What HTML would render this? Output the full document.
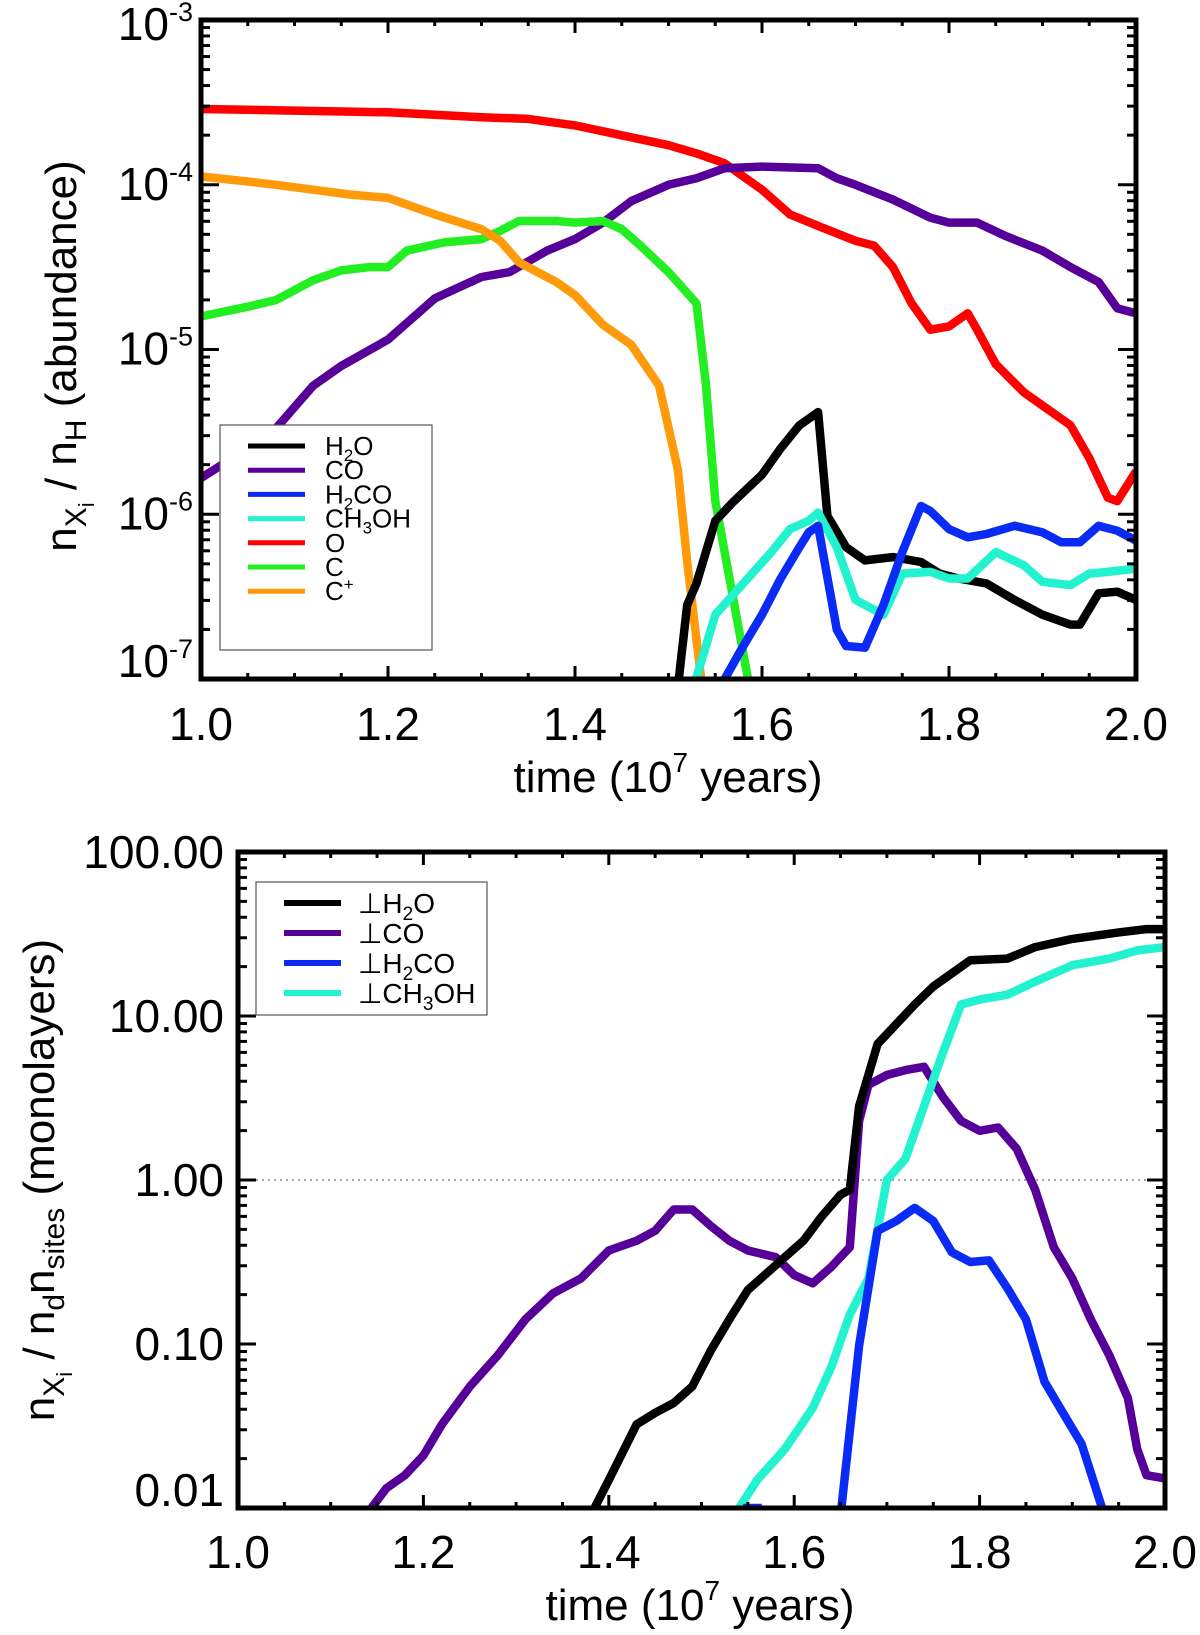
<!DOCTYPE html>
<html><head><meta charset="utf-8"><style>
body{margin:0;background:#fff}
svg{display:block;font-family:"Liberation Sans",Arial,sans-serif}
</style></head><body>
<svg id="fig" width="1200" height="1635" viewBox="0 0 1200 1635" xmlns="http://www.w3.org/2000/svg">
<defs>
<clipPath id="clipTop"><rect x="201" y="20" width="935" height="659"/></clipPath>
<clipPath id="clipBot"><rect x="238" y="852" width="927" height="656"/></clipPath>
</defs>
<g id="top"></g>
<g id="bot"></g>
</svg>
<script>
// ---- Top panel data (t in 1e7 yr, log10 abundance) ----
const topO_t=[1.0,1.1,1.2,1.3,1.35,1.4,1.45,1.5,1.53,1.56,1.6,1.63,1.66,1.7,1.72,1.74,1.76,1.78,1.8,1.82,1.83,1.85,1.88,1.9,1.93,1.95,1.97,1.98,2.0];
const topO_v=[-3.54,-3.55,-3.56,-3.59,-3.60,-3.64,-3.70,-3.76,-3.81,-3.87,-4.03,-4.18,-4.25,-4.34,-4.37,-4.50,-4.72,-4.88,-4.86,-4.78,-4.88,-5.09,-5.26,-5.34,-5.46,-5.66,-5.90,-5.92,-5.74];
const topCO_t=[1.0,1.05,1.08,1.12,1.15,1.2,1.25,1.3,1.33,1.37,1.4,1.43,1.46,1.5,1.53,1.56,1.6,1.66,1.68,1.7,1.74,1.78,1.8,1.83,1.86,1.9,1.93,1.96,1.98,2.0];
const topCO_v=[-5.78,-5.60,-5.48,-5.22,-5.10,-4.94,-4.69,-4.56,-4.53,-4.40,-4.33,-4.23,-4.10,-4.00,-3.96,-3.90,-3.89,-3.90,-3.96,-4.00,-4.09,-4.20,-4.23,-4.23,-4.31,-4.40,-4.50,-4.59,-4.75,-4.78];
const topC_t=[1.0,1.05,1.08,1.12,1.15,1.18,1.2,1.22,1.26,1.3,1.32,1.34,1.38,1.4,1.43,1.45,1.47,1.5,1.53,1.54,1.55,1.585,1.6];
const topC_v=[-4.80,-4.74,-4.70,-4.58,-4.52,-4.50,-4.50,-4.40,-4.35,-4.33,-4.28,-4.22,-4.22,-4.23,-4.22,-4.27,-4.37,-4.53,-4.72,-5.21,-5.92,-7.0,-7.6];
const topCp_t=[1.0,1.05,1.08,1.12,1.16,1.2,1.25,1.3,1.32,1.34,1.38,1.4,1.43,1.46,1.49,1.51,1.52,1.535,1.545];
const topCp_v=[-3.95,-3.98,-4.00,-4.03,-4.06,-4.08,-4.18,-4.27,-4.34,-4.47,-4.59,-4.67,-4.85,-4.97,-5.22,-5.73,-6.29,-7.0,-7.6];
const topH2O_t=[1.505,1.52,1.53,1.55,1.57,1.6,1.62,1.64,1.66,1.67,1.69,1.71,1.74,1.77,1.79,1.81,1.84,1.87,1.9,1.93,1.94,1.96,1.98,2.0];
const topH2O_v=[-7.3,-6.55,-6.42,-6.04,-5.92,-5.76,-5.60,-5.46,-5.38,-6.01,-6.20,-6.28,-6.26,-6.29,-6.36,-6.39,-6.42,-6.52,-6.61,-6.67,-6.67,-6.48,-6.47,-6.52];
const topCH3OH_t=[1.52,1.53,1.55,1.58,1.61,1.63,1.65,1.66,1.68,1.7,1.73,1.75,1.78,1.8,1.82,1.85,1.88,1.9,1.93,1.95,1.97,2.0];
const topCH3OH_v=[-7.3,-6.99,-6.61,-6.42,-6.23,-6.09,-6.04,-5.99,-6.20,-6.52,-6.61,-6.36,-6.35,-6.39,-6.39,-6.23,-6.31,-6.41,-6.43,-6.36,-6.35,-6.33];
const topH2CO_t=[1.55,1.58,1.6,1.62,1.64,1.65,1.66,1.68,1.69,1.71,1.73,1.75,1.77,1.78,1.8,1.82,1.84,1.87,1.9,1.92,1.94,1.96,1.98,2.0];
const topH2CO_v=[-7.1,-6.80,-6.61,-6.39,-6.20,-6.11,-6.07,-6.70,-6.80,-6.81,-6.55,-6.23,-5.95,-5.98,-6.09,-6.14,-6.12,-6.07,-6.11,-6.17,-6.17,-6.07,-6.10,-6.16];
// ---- Bottom panel data (log10 monolayers) ----
const botH2O_t=[1.38,1.4,1.43,1.45,1.47,1.49,1.51,1.53,1.55,1.57,1.59,1.61,1.63,1.65,1.66,1.67,1.69,1.71,1.73,1.75,1.77,1.79,1.83,1.86,1.9,1.95,1.98,2.0];
const botH2O_v=[-2.05,-1.83,-1.49,-1.42,-1.36,-1.26,-1.04,-0.85,-0.67,-0.57,-0.47,-0.37,-0.22,-0.09,-0.06,0.45,0.83,0.95,1.07,1.18,1.26,1.34,1.35,1.42,1.47,1.51,1.53,1.53];
const botCH3OH_t=[1.535,1.56,1.59,1.62,1.64,1.66,1.68,1.7,1.72,1.74,1.76,1.78,1.8,1.83,1.86,1.9,1.94,1.97,2.0];
const botCH3OH_v=[-2.05,-1.83,-1.64,-1.39,-1.14,-0.82,-0.60,0.0,0.13,0.45,0.77,1.07,1.10,1.13,1.21,1.31,1.35,1.40,1.42];
const botCO_t=[1.14,1.16,1.18,1.2,1.22,1.25,1.28,1.31,1.34,1.37,1.4,1.43,1.45,1.47,1.49,1.51,1.53,1.55,1.58,1.6,1.62,1.64,1.66,1.67,1.68,1.7,1.72,1.74,1.76,1.78,1.8,1.82,1.84,1.86,1.88,1.9,1.92,1.94,1.96,1.97,1.98,2.0];
const botCO_v=[-2.03,-1.88,-1.80,-1.68,-1.49,-1.26,-1.07,-0.85,-0.69,-0.60,-0.43,-0.37,-0.31,-0.18,-0.18,-0.28,-0.37,-0.43,-0.47,-0.58,-0.63,-0.53,-0.41,0.36,0.58,0.64,0.67,0.69,0.51,0.36,0.30,0.32,0.19,-0.06,-0.41,-0.60,-0.85,-1.07,-1.33,-1.64,-1.80,-1.82];
const botH2CO_t=[1.65,1.67,1.69,1.71,1.73,1.75,1.77,1.79,1.81,1.83,1.85,1.87,1.89,1.91,1.935];
const botH2CO_v=[-2.05,-1.01,-0.31,-0.25,-0.17,-0.25,-0.44,-0.50,-0.49,-0.66,-0.85,-1.23,-1.42,-1.61,-2.05];
const botH2CO2_t=[1.545,1.565];
const botH2CO2_v=[-2.0,-2.0];
const xTicks=[1.0,1.2,1.4,1.6,1.8,2.0];
const xTickLabels=["1.0","1.2","1.4","1.6","1.8","2.0"];
const topYExp=["-3","-4","-5","-6","-7"];
const botYLabels=["100.00","10.00","1.00","0.10","0.01"];

const NS="http://www.w3.org/2000/svg";
function mk(tag,attrs,parent){const e=document.createElementNS(NS,tag);for(const k in attrs)e.setAttribute(k,attrs[k]);parent.appendChild(e);return e;}

const T={x0:201,x1:1136,y0:20,y1:679,lmax:-3,lmin:-7};
const B={x0:238,x1:1165,y0:852,y1:1508,lmax:2,lmin:-2};
function sx(P,t){return P.x0+(t-1)*(P.x1-P.x0);}
function sy(P,l){return P.y0+(P.lmax-l)/(P.lmax-P.lmin)*(P.y1-P.y0);}

function axes(P,g){
  const f=mk('g',{},g);
  
  
  for(let t=1;t<=2.0001;t+=0.05){
    const maj=Math.abs(Math.round(t*5)-t*5)<1e-6;const L=maj?13:6;const x=sx(P,t);
    mk('line',{x1:x,x2:x,y1:P.y1,y2:P.y1-L,stroke:'#000','stroke-width':3},f);
    mk('line',{x1:x,x2:x,y1:P.y0,y2:P.y0+L,stroke:'#000','stroke-width':3},f);
  }
  for(let d=P.lmin;d<P.lmax;d++){for(let m=1;m<10;m++){
    const l=d+Math.log10(m);const y=sy(P,l);const L=m==1?18:9;
    mk('line',{x1:P.x0,x2:P.x0+L,y1:y,y2:y,stroke:'#000','stroke-width':3},f);
    mk('line',{x1:P.x1,x2:P.x1-L,y1:y,y2:y,stroke:'#000','stroke-width':3},f);
  }}
  const fr=mk('rect',{x:P.x0,y:P.y0,width:P.x1-P.x0,height:P.y1-P.y0,fill:'none',stroke:'#000','stroke-width':5},g);
  
  
}
function series(P,g,clip,ts,vs,color,name){
  const pts=ts.map((t,i)=>sx(P,t).toFixed(1)+','+sy(P,vs[i]).toFixed(1)).join(' ');
  const p=mk('polyline',{points:pts,fill:'none',stroke:color,'stroke-width':8.5,'stroke-linejoin':'round','clip-path':'url(#'+clip+')'},g);
  
  
}
function txt(g,x,y,s,size,anchor){const e=mk('text',{x:x,y:y,'font-size':size,'text-anchor':anchor||'middle'},g);e.textContent=s;return e;}

const C={h2o:'#000000',co:'#560099',h2co:'#0a2af5',ch3oh:'#22f2cf',o:'#ff0000',c:'#22ee22',cp:'#ff9a0a'};

// ---------- Top ----------
const gt=document.getElementById('top');
series(T,gt,'clipTop',topO_t,topO_v,C.o,'line-o');
series(T,gt,'clipTop',topCO_t,topCO_v,C.co,'line-co');
series(T,gt,'clipTop',topC_t,topC_v,C.c,'line-c');
series(T,gt,'clipTop',topCp_t,topCp_v,C.cp,'line-c-plus');
series(T,gt,'clipTop',topH2O_t,topH2O_v,C.h2o,'line-h2o');
series(T,gt,'clipTop',topCH3OH_t,topCH3OH_v,C.ch3oh,'line-ch3oh');
series(T,gt,'clipTop',topH2CO_t,topH2CO_v,C.h2co,'line-h2co');
axes(T,gt);
xTicks.forEach((t,i)=>{const e=txt(gt,sx(T,t),740,xTickLabels[i],46);
  
  });
topYExp.forEach((s,i)=>{const y=sy(T,T.lmax-i)+(i==4?-2:(i==0?20:15));
  const e=mk('text',{x:193,y:y,'font-size':46,'text-anchor':'end'},gt);
  
  
  e.innerHTML='10<tspan font-size="27" dy="-19">'+s+'</tspan>';});
{const e=mk('text',{x:0,y:0,'font-size':44,'text-anchor':'middle',transform:'translate(76,356) rotate(-90)'},gt);
 
 
 e.innerHTML='n<tspan font-size="30" dy="10">X</tspan><tspan font-size="22" dy="8">i</tspan><tspan dy="-18"> / n</tspan><tspan font-size="30" dy="10">H</tspan><tspan dy="-10"> (abundance)</tspan>';}
{const e=mk('text',{x:668,y:792,'font-size':44,'text-anchor':'middle'},gt);
 
 
 e.innerHTML='time (10<tspan font-size="28" dy="-20">7</tspan><tspan dy="20"> years)</tspan>';}
// top legend
{const lg=mk('g',{},gt);
 
 
 mk('rect',{x:220,y:425,width:212,height:225,fill:'#fff',stroke:'#555','stroke-width':1.2},lg);
 const items=[['H<tspan font-size="17" dy="6">2</tspan><tspan dy="-6">O</tspan>',C.h2o],['CO',C.co],['H<tspan font-size="17" dy="6">2</tspan><tspan dy="-6">CO</tspan>',C.h2co],['CH<tspan font-size="17" dy="6">3</tspan><tspan dy="-6">OH</tspan>',C.ch3oh],['O',C.o],['C',C.c],['C<tspan font-size="17" dy="-10">+</tspan>',C.cp]];
 items.forEach((it,i)=>{const y=446+i*24.2;
  const l=mk('line',{x1:248,x2:305,y1:y,y2:y,stroke:it[1],'stroke-width':5},lg);
  
  
  const e=mk('text',{x:325,y:y+9,'font-size':26},lg);
  
  
  e.innerHTML=it[0];});}

// ---------- Bottom ----------
const gb=document.getElementById('bot');
{const d=mk('line',{x1:B.x0,x2:B.x1,y1:sy(B,0),y2:sy(B,0),stroke:'#888','stroke-width':1.5,'stroke-dasharray':'2,4'},gb);
 
 }
series(B,gb,'clipBot',botCO_t,botCO_v,C.co,'line-ice-co');
series(B,gb,'clipBot',botH2O_t,botH2O_v,C.h2o,'line-ice-h2o');
series(B,gb,'clipBot',botCH3OH_t,botCH3OH_v,C.ch3oh,'line-ice-ch3oh');
series(B,gb,'clipBot',botH2CO_t,botH2CO_v,C.h2co,'line-ice-h2co');
series(B,gb,'clipBot',botH2CO2_t,botH2CO2_v,C.h2co,'line-ice-h2co-fragment');
axes(B,gb);
xTicks.forEach((t,i)=>{const e=txt(gb,sx(B,t),1568,xTickLabels[i],46);
  
  });
botYLabels.forEach((s,i)=>{const y=sy(B,B.lmax-i)+(i==4?-2:16);
  const e=txt(gb,224,y,s,46,'end');
  
  });
{const e=mk('text',{x:0,y:0,'font-size':44,'text-anchor':'middle',transform:'translate(54,1180) rotate(-90)'},gb);
 
 
 e.innerHTML='n<tspan font-size="30" dy="10">X</tspan><tspan font-size="22" dy="8">i</tspan><tspan dy="-18"> / n</tspan><tspan font-size="30" dy="10">d</tspan><tspan dy="-10">n</tspan><tspan font-size="30" dy="10">sites</tspan><tspan dy="-10"> (monolayers)</tspan>';}
{const e=mk('text',{x:700,y:1620,'font-size':44,'text-anchor':'middle'},gb);
 
 
 e.innerHTML='time (10<tspan font-size="28" dy="-20">7</tspan><tspan dy="20"> years)</tspan>';}
{const lg=mk('g',{},gb);
 
 
 mk('rect',{x:256,y:882,width:231,height:133,fill:'#fff',stroke:'#555','stroke-width':1.2},lg);
 const items=[['⊥H<tspan font-size="19" dy="7">2</tspan><tspan dy="-7">O</tspan>',C.h2o],['⊥CO',C.co],['⊥H<tspan font-size="19" dy="7">2</tspan><tspan dy="-7">CO</tspan>',C.h2co],['⊥CH<tspan font-size="19" dy="7">3</tspan><tspan dy="-7">OH</tspan>',C.ch3oh]];
 items.forEach((it,i)=>{const y=903+i*30;
  const l=mk('line',{x1:284,x2:341,y1:y,y2:y,stroke:it[1],'stroke-width':6},lg);
  
  
  const e=mk('text',{x:358,y:y+10,'font-size':28},lg);
  
  
  e.innerHTML=it[0];});}
</script>
</body></html>
